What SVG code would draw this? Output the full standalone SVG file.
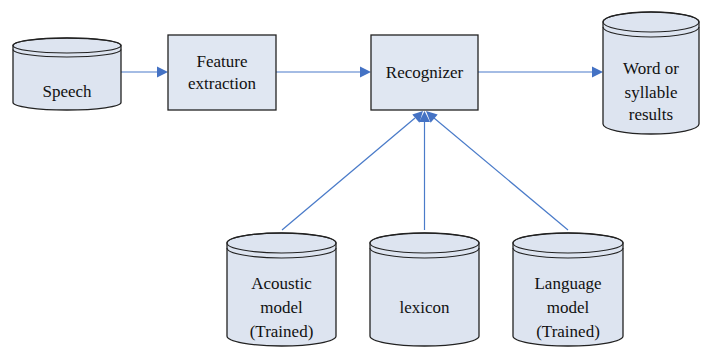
<svg xmlns="http://www.w3.org/2000/svg" width="703" height="347" viewBox="0 0 703 347">
  <style>
    .box { fill: #E0E7F2; stroke: #222; stroke-width: 1.3; }
    .cyl { fill: #DDE4F0; stroke: #222; stroke-width: 1.3; }
    .rim { fill: none; stroke: #222; stroke-width: 1.1; }
    .lbl { font-family: 'Liberation Serif', serif; font-size: 17px; fill: #111; text-anchor: middle; }
    .conn { fill: none; stroke: #4A7BC9; stroke-width: 1.2; }
    .head { fill: #4472C4; }
  </style>

  <rect width="703" height="347" fill="#fff"/>

  <!-- connectors with their arrowheads -->
  <g id="connectors">
    <line class="conn" x1="121" y1="72" x2="158" y2="72"/>
    <polygon class="head" points="168,72 157,66.5 157,77.5"/>
    <line class="conn" x1="276" y1="72" x2="361" y2="72"/>
    <polygon class="head" points="371,72 360,66.5 360,77.5"/>
    <line class="conn" x1="478" y1="72" x2="593" y2="72"/>
    <polygon class="head" points="603,72 592,66.5 592,77.5"/>
    <line class="conn" x1="282" y1="230" x2="415" y2="118"/>
    <polygon class="head" points="423,111 419.4,122.8 412.3,114.4"/>
    <line class="conn" x1="424.5" y1="230" x2="424.5" y2="121"/>
    <polygon class="head" points="424.5,111 419,122 430,122"/>
    <line class="conn" x1="568" y1="230" x2="434" y2="118"/>
    <polygon class="head" points="426,111 437.7,114.4 430.6,122.8"/>
  </g>

  <!-- Speech -->
  <g id="speech">
    <path class="cyl" d="M13,45.5 L13,102.5 A54,7.5 0 0 0 121,102.5 L121,45.5 A54,7.5 0 0 0 13,45.5 Z"/>
    <ellipse class="rim" cx="67" cy="45.5" rx="54" ry="7.5"/>
    <path class="rim" d="M13,49.5 A54,7.5 0 0 0 121,49.5"/>
    <text class="lbl" style="font-family:'Liberation Serif', serif" x="67" y="97">Speech</text>
  </g>

  <!-- Feature extraction -->
  <g id="feature">
    <rect class="box" x="168" y="35" width="108" height="75"/>
    <text class="lbl" style="font-family:'Liberation Serif', serif" x="222" y="67">Feature</text>
    <text class="lbl" style="font-family:'Liberation Serif', serif" x="222" y="89">extraction</text>
  </g>

  <!-- Recognizer -->
  <g id="recognizer">
    <rect class="box" x="371" y="35" width="107" height="75"/>
    <text class="lbl" style="font-family:'Liberation Serif', serif" x="424.5" y="78">Recognizer</text>
  </g>

  <!-- Word or syllable results -->
  <g id="results">
    <path class="cyl" d="M603,22 L603,124 A48,10 0 0 0 699,124 L699,22 A48,10 0 0 0 603,22 Z"/>
    <ellipse class="rim" cx="651" cy="22" rx="48" ry="10"/>
    <path class="rim" d="M603,27 A48,10 0 0 0 699,27"/>
    <text class="lbl" style="font-family:'Liberation Serif', serif" x="651" y="74">Word or</text>
    <text class="lbl" style="font-family:'Liberation Serif', serif" x="651" y="98">syllable</text>
    <text class="lbl" style="font-family:'Liberation Serif', serif" x="651" y="120">results</text>
  </g>

  <!-- Acoustic model -->
  <g id="acoustic">
    <path class="cyl" d="M227,243 L227,336 A54.5,10 0 0 0 336,336 L336,243 A54.5,10 0 0 0 227,243 Z"/>
    <ellipse class="rim" cx="281.5" cy="243" rx="54.5" ry="10"/>
    <path class="rim" d="M227,248 A54.5,10 0 0 0 336,248"/>
    <text class="lbl" style="font-family:'Liberation Serif', serif" x="281.5" y="289">Acoustic</text>
    <text class="lbl" style="font-family:'Liberation Serif', serif" x="281.5" y="313">model</text>
    <text class="lbl" style="font-family:'Liberation Serif', serif" x="281.5" y="337">(Trained)</text>
  </g>

  <!-- lexicon -->
  <g id="lexicon">
    <path class="cyl" d="M370,243 L370,336 A54.5,10 0 0 0 479,336 L479,243 A54.5,10 0 0 0 370,243 Z"/>
    <ellipse class="rim" cx="424.5" cy="243" rx="54.5" ry="10"/>
    <path class="rim" d="M370,248 A54.5,10 0 0 0 479,248"/>
    <text class="lbl" style="font-family:'Liberation Serif', serif" x="424.5" y="313">lexicon</text>
  </g>

  <!-- Language model -->
  <g id="language">
    <path class="cyl" d="M513,243 L513,336 A55,10 0 0 0 623,336 L623,243 A55,10 0 0 0 513,243 Z"/>
    <ellipse class="rim" cx="568" cy="243" rx="55" ry="10"/>
    <path class="rim" d="M513,248 A55,10 0 0 0 623,248"/>
    <text class="lbl" style="font-family:'Liberation Serif', serif" x="568" y="289">Language</text>
    <text class="lbl" style="font-family:'Liberation Serif', serif" x="568" y="313">model</text>
    <text class="lbl" style="font-family:'Liberation Serif', serif" x="568" y="337">(Trained)</text>
  </g>
</svg>
